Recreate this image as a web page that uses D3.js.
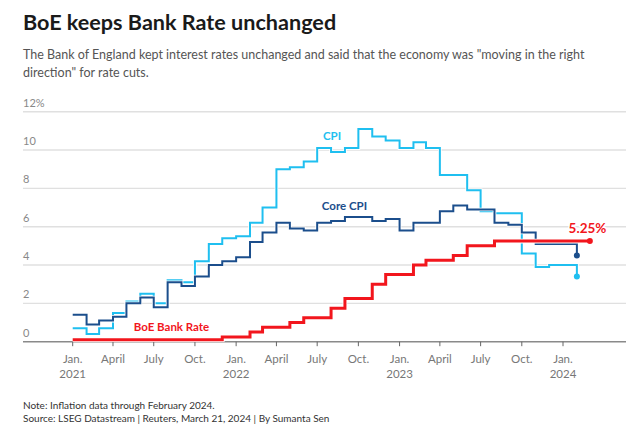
<!DOCTYPE html>
<html>
<head>
<meta charset="utf-8">
<script src="https://cdn.jsdelivr.net/npm/d3@7"></script>
<style>
  body { margin: 0; background: #fff; }
  svg { display: block; font-family: Lato, 'Noto Sans', sans-serif; }
  .tick-label { fill: #777; font-size: 11.5px; }
  .y-label { fill: #888; font-size: 11px; }
</style>
</head>
<body>
<div id="chart"></div>
<script>
// ---------- Data ----------
const months = [
  '2021-01', '2021-02', '2021-03', '2021-04', '2021-05', '2021-06',
  '2021-07', '2021-08', '2021-09', '2021-10', '2021-11', '2021-12',
  '2022-01', '2022-02', '2022-03', '2022-04', '2022-05', '2022-06',
  '2022-07', '2022-08', '2022-09', '2022-10', '2022-11', '2022-12',
  '2023-01', '2023-02', '2023-03', '2023-04', '2023-05', '2023-06',
  '2023-07', '2023-08', '2023-09', '2023-10', '2023-11', '2023-12',
  '2024-01', '2024-02', '2024-03'
]

// Inflation through February 2024
const cpi = [
  0.7, 0.4, 0.7, 1.5, 2.1, 2.5, 2.0, 3.2, 3.1, 4.2, 5.1, 5.4,
  5.5, 6.2, 7.0, 9.0, 9.1, 9.4, 10.1, 9.9, 10.1, 11.1, 10.7, 10.5,
  10.1, 10.4, 10.1, 8.7, 8.7, 7.9, 6.8, 6.7, 6.7, 4.6, 3.9, 4.0,
  4.0, 3.4
]

const coreCpi = [
  1.4, 0.9, 1.1, 1.3, 2.0, 2.3, 1.8, 3.1, 2.9, 3.4, 4.0, 4.2,
  4.4, 5.2, 5.7, 6.2, 5.9, 5.8, 6.2, 6.3, 6.5, 6.5, 6.3, 6.4,
  5.8, 6.2, 6.2, 6.8, 7.1, 6.9, 6.9, 6.2, 6.1, 5.7, 5.1, 5.1,
  5.1, 4.5
]

// Bank Rate through March 2024
const bankRate = [
  0.1, 0.1, 0.1, 0.1, 0.1, 0.1, 0.1, 0.1, 0.1, 0.1, 0.1, 0.25,
  0.25, 0.5, 0.75, 0.75, 1.0, 1.25, 1.25, 1.75, 2.25, 2.25, 3.0, 3.5,
  3.5, 4.0, 4.25, 4.25, 4.5, 5.0, 5.0, 5.25, 5.25, 5.25, 5.25, 5.25,
  5.25, 5.25, 5.25
]

const yTicks = [0, 2, 4, 6, 8, 10, 12]

const xTicks = [
  '2021-01', '2021-04', '2021-07', '2021-10',
  '2022-01', '2022-04', '2022-07', '2022-10',
  '2023-01', '2023-04', '2023-07', '2023-10',
  '2024-01'
]
const xTickLabels = [
  ['Jan.', '2021'], ['April'], ['July'], ['Oct.'],
  ['Jan.', '2022'], ['April'], ['July'], ['Oct.'],
  ['Jan.', '2023'], ['April'], ['July'], ['Oct.'],
  ['Jan.', '2024']
]

const colors = {
  cpi: '#1fbff0',
  core: '#1b4e8c',
  rate: '#f2161d'
}

// ---------- Layout ----------
const width = 639
const height = 430
const parseMonth = d3.timeParse('%Y-%m')

const x = d3.scaleTime()
  .domain([parseMonth('2021-01'), parseMonth('2024-01')])
  .range([72.7, 563])

const y = d3.scaleLinear()
  .domain([0, 12])
  .range([341.7, 111.7])

const gridLeft = 23
const gridRight = 626

const svg = d3.select('#chart')
  .append('svg')
  .attr('width', width)
  .attr('height', height)

// ---------- Title and subtitle ----------
svg.append('text')
  .attr('x', 23)
  .attr('y', 30)
  .attr('fill', '#1a1a1a')
  .attr('font-size', 21.6)
  .attr('font-weight', 700)
  .text('BoE keeps Bank Rate unchanged')

const subtitle = [
  'The Bank of England kept interest rates unchanged and said that the economy was "moving in the right',
  'direction" for rate cuts.'
]
svg.append('g')
  .selectAll('text')
  .data(subtitle)
  .join('text')
  .attr('x', 23)
  .attr('y', (_, i) => 59 + i * 18)
  .attr('fill', '#555')
  .attr('font-size', 12.5)
  .text(d => d)

// ---------- Grid ----------
svg.append('g')
  .selectAll('line')
  .data(yTicks.filter(d => d > 0))
  .join('line')
  .attr('x1', gridLeft)
  .attr('x2', gridRight)
  .attr('y1', d => y(d))
  .attr('y2', d => y(d))
  .attr('stroke', '#e0e0e0')
  .attr('stroke-width', 1.4)

svg.append('g')
  .selectAll('text')
  .data(yTicks)
  .join('text')
  .attr('class', 'y-label')
  .attr('x', gridLeft)
  .attr('y', d => y(d) - 5)
  .text(d => (d === 12 ? '12%' : d))

// ---------- X axis ----------
const xAxis = svg.append('g')

xAxis.append('line')
  .attr('x1', gridLeft)
  .attr('x2', gridRight)
  .attr('y1', y(0))
  .attr('y2', y(0))
  .attr('stroke', '#8a8a8a')
  .attr('stroke-width', 1.5)

const ticks = xAxis.selectAll('.x-tick')
  .data(xTicks.map((m, i) => ({ date: parseMonth(m), label: xTickLabels[i] })))
  .join('g')
  .attr('class', 'x-tick')
  .attr('transform', d => `translate(${x(d.date)},${y(0)})`)

ticks.append('line')
  .attr('y1', 0)
  .attr('y2', 4.5)
  .attr('stroke', '#666')
  .attr('stroke-width', 1)

ticks.selectAll('text')
  .data(d => d.label)
  .join('text')
  .attr('class', 'tick-label')
  .attr('text-anchor', 'middle')
  .attr('y', (_, i) => 21 + i * 15)
  .text(d => d)

// ---------- Lines ----------
const line = d3.line()
  .x(d => x(d.date))
  .y(d => y(d.value))
  .curve(d3.curveStepAfter)

const toSeries = values => values.map((v, i) => ({ date: parseMonth(months[i]), value: v }))

const series = [
  { key: 'cpi', data: toSeries(cpi), width: 2 },
  { key: 'core', data: toSeries(coreCpi), width: 2 },
  { key: 'rate', data: toSeries(bankRate), width: 3 }
]

const lines = svg.append('g')

series.forEach(s => {
  lines.append('path')
    .attr('d', line(s.data))
    .attr('fill', 'none')
    .attr('stroke', '#fff')
    .attr('stroke-width', s.width + 1.6)
    .attr('stroke-linejoin', 'miter')

  lines.append('path')
    .attr('d', line(s.data))
    .attr('fill', 'none')
    .attr('stroke', colors[s.key])
    .attr('stroke-width', s.width)
    .attr('stroke-linejoin', 'miter')

  const last = s.data[s.data.length - 1]
  lines.append('circle')
    .attr('cx', x(last.date))
    .attr('cy', y(last.value))
    .attr('r', 3)
    .attr('fill', colors[s.key])
})

// ---------- Labels ----------
const labels = [
  { text: 'CPI', x: 332, y: 139.5, color: colors.cpi, size: 11.5 },
  { text: 'Core CPI', x: 344.5, y: 210, color: colors.core, size: 11.5 },
  { text: 'BoE Bank Rate', x: 171.5, y: 331, color: colors.rate, size: 11.5 },
  { text: '5.25%', x: 587.5, y: 233, color: colors.rate, size: 13.5 }
]

svg.append('g')
  .selectAll('text')
  .data(labels)
  .join('text')
  .attr('x', d => d.x)
  .attr('y', d => d.y)
  .attr('text-anchor', 'middle')
  .attr('font-size', d => d.size)
  .attr('font-weight', 700)
  .attr('fill', d => d.color)
  .attr('stroke', '#fff')
  .attr('stroke-width', 3)
  .attr('paint-order', 'stroke')
  .text(d => d.text)

// ---------- Footer ----------
const footer = [
  'Note: Inflation data through February 2024.',
  'Source: LSEG Datastream | Reuters, March 21, 2024 | By Sumanta Sen'
]
svg.append('g')
  .selectAll('text')
  .data(footer)
  .join('text')
  .attr('x', 23)
  .attr('y', (_, i) => 409 + i * 13)
  .attr('fill', '#333')
  .attr('font-size', 10)
  .text(d => d)
</script>
</body>
</html>
